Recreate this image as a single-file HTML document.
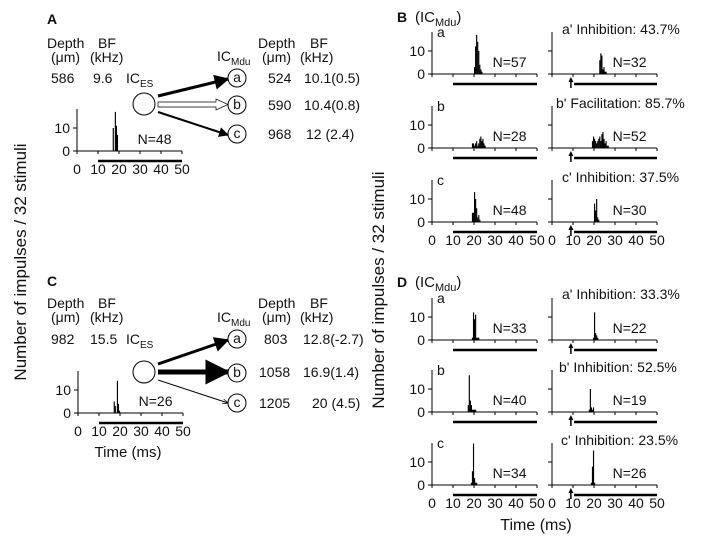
<!DOCTYPE html>
<html><head><meta charset="utf-8"><style>
body{margin:0;background:#fff}
svg{display:block;font-family:"Liberation Sans",Arial,sans-serif}
text{fill:#111}
</style></head><body>
<svg id="fig" width="707" height="551" viewBox="0 0 707 551">
<defs>
<marker id="ah" viewBox="0 0 10 10" refX="9" refY="5" markerWidth="5" markerHeight="5" orient="auto"><path d="M0,0L10,5L0,10z" fill="#000"/></marker>
<marker id="ahs" viewBox="0 0 10 10" refX="9" refY="5" markerWidth="8" markerHeight="6" orient="auto"><path d="M0,1L10,5L0,9" fill="none" stroke="#000" stroke-width="1.2"/></marker>
</defs>
<g font-size="14">
<g>
<text x="47" y="24" font-weight="bold" font-size="14">A</text>
<text x="47" y="48">Depth</text><text x="98" y="48">BF</text>
<text x="51" y="62">(μm)</text><text x="90" y="62">(kHz)</text>
<text x="51" y="83">586</text><text x="93" y="83">9.6</text>
<text x="126" y="83">IC<tspan font-size="10" dy="4">ES</tspan></text>
<circle cx="144" cy="104" r="11" fill="#fff" stroke="#000"/>
<line x1="158" y1="96" x2="228" y2="79" stroke="#000" stroke-width="3" marker-end="url(#ah)"/>
<path d="M158,102 L216,102 L216,99 L228,104.5 L216,110 L216,107 L158,107 Z" fill="#fff" stroke="#000" stroke-width="0.7"/>
<line x1="158" y1="112" x2="228" y2="135" stroke="#000" stroke-width="2" marker-end="url(#ah)"/>
<circle cx="237" cy="78" r="9" fill="#fff" stroke="#000"/><text x="237" y="82" text-anchor="middle">a</text>
<circle cx="237" cy="105" r="9" fill="#fff" stroke="#000"/><text x="237" y="109" text-anchor="middle">b</text>
<circle cx="237" cy="134" r="9" fill="#fff" stroke="#000"/><text x="237" y="138" text-anchor="middle">c</text>
<text x="217" y="61">IC<tspan font-size="10" dy="4">Mdu</tspan></text>
<text x="258" y="48">Depth</text><text x="310" y="48">BF</text>
<text x="262" y="62">(μm)</text><text x="300" y="62">(kHz)</text>
<text x="268" y="83">524</text><text x="304" y="83">10.1(0.5)</text>
<text x="268" y="110">590</text><text x="304" y="110">10.4(0.8)</text>
<text x="268" y="139">968</text><text x="306" y="139">12  (2.4)</text>
</g>
<g>
<text x="47" y="286" font-weight="bold" font-size="14">C</text>
<text x="47" y="308">Depth</text><text x="98" y="308">BF</text>
<text x="51" y="322">(μm)</text><text x="90" y="322">(kHz)</text>
<text x="51" y="344">982</text><text x="90" y="344">15.5</text>
<text x="126" y="344">IC<tspan font-size="10" dy="4">ES</tspan></text>
<circle cx="144" cy="372" r="11" fill="#fff" stroke="#000"/>
<line x1="158" y1="364" x2="228" y2="340" stroke="#000" stroke-width="3" marker-end="url(#ah)"/>
<line x1="158" y1="372" x2="228" y2="372" stroke="#000" stroke-width="5" marker-end="url(#ah)"/>
<line x1="158" y1="380" x2="228" y2="403" stroke="#000" stroke-width="1" marker-end="url(#ahs)"/>
<circle cx="237" cy="339" r="9" fill="#fff" stroke="#000"/><text x="237" y="343" text-anchor="middle">a</text>
<circle cx="237" cy="373" r="9" fill="#fff" stroke="#000"/><text x="237" y="377" text-anchor="middle">b</text>
<circle cx="237" cy="403" r="9" fill="#fff" stroke="#000"/><text x="237" y="407" text-anchor="middle">c</text>
<text x="217" y="322">IC<tspan font-size="10" dy="4">Mdu</tspan></text>
<text x="258" y="308">Depth</text><text x="310" y="308">BF</text>
<text x="262" y="322">(μm)</text><text x="300" y="322">(kHz)</text>
<text x="264" y="344">803</text><text x="303" y="344">12.8(-2.7)</text>
<text x="259" y="377">1058</text><text x="303" y="377">16.9(1.4)</text>
<text x="259" y="408">1205</text><text x="312" y="408">20 (4.5)</text>
<text x="128" y="457" font-size="15" text-anchor="middle">Time (ms)</text>
</g>
<text x="397" y="22" font-weight="bold" font-size="14">B</text>
<text x="415" y="22" font-size="15">(IC<tspan font-size="11" dy="4">Mdu</tspan><tspan dy="-4">)</tspan></text>
<text x="397" y="287" font-weight="bold" font-size="14">D</text>
<text x="415" y="287" font-size="15">(IC<tspan font-size="11" dy="4">Mdu</tspan><tspan dy="-4">)</tspan></text>
<text x="562" y="34">a'  Inhibition: 43.7%</text>
<text x="556" y="108">b'  Facilitation: 85.7%</text>
<text x="562" y="182">c'  Inhibition: 37.5%</text>
<text x="562" y="299">a'  Inhibition: 33.3%</text>
<text x="559" y="372">b'  Inhibition: 52.5%</text>
<text x="561" y="445">c'  Inhibition: 23.5%</text>
<text x="536" y="530" font-size="16" text-anchor="middle">Time (ms)</text>
<text transform="translate(26,262) rotate(-90)" font-size="17" text-anchor="middle">Number of impulses / 32 stimuli</text>
<text transform="translate(384,290) rotate(-90)" font-size="17" text-anchor="middle">Number of impulses / 32 stimuli</text>
</g>
<g id="hists"></g>
</svg>
<script>
const startA=17,  countsA=[10,0,17,11,7];
const startC=17,  countsC=[5,3,0,14,4,1];
const startBa=20, countsBa=[3,12,17,14,10,4,2,1];
const startBa2=22.5, countsBa2=[6,9,8,2,3,1,1];
const startBb=19, countsBb=[2,2,1,2,3,1,2,4,5,3,4,2,1];
const startBb2=19, countsBb2=[3,5,4,3,2,3,4,5,3,6,7,4,2,3,1,1];
const startBc=19, countsBc=[4,4,13,10,6,2,3,1];
const startBc2=20, countsBc2=[8,5,10,2,1];
const startDa=19, countsDa=[1,12,9,11,1,1,1];
const startDa2=19.5, countsDa2=[1,12,3,2,1];
const startDb=17, countsDb=[3,16,5,3,1,1,1,1];
const startDb2=17.5, countsDb2=[1,10,2,1,2];
const startDc=18.5, countsDc=[1,6,18,3,1,1];
const startDc2=18.5, countsDc2=[1,8,15,1];
const nLabels=["N=48","N=26","N=57","N=32","N=28","N=52","N=48","N=30","N=33","N=22","N=40","N=19","N=34","N=26"];
const xTicks=[0,10,20,30,40,50];
const yTicks=[0,10];

const NS="http://www.w3.org/2000/svg";
const G=document.getElementById('hists');
function el(t,a,p){const e=document.createElementNS(NS,t);for(const k in a)e.setAttribute(k,a[k]);(p||G).appendChild(e);return e;}
function hist(name,x0,y0,start,counts,nLab,letter,prime,showX){
  const sx=v=>x0+v*2.1, sy=v=>y0-v*2.3;
  const g=el('g',{});
  
  
  el('line',{x1:x0,y1:y0,x2:sx(50),y2:y0,stroke:'#000','stroke-width':1},g);
  el('line',{x1:x0,y1:y0,x2:x0,y2:y0-42,stroke:'#000','stroke-width':1},g);
  xTicks.forEach(t=>{el('line',{x1:sx(t),y1:y0,x2:sx(t),y2:y0+3,stroke:'#000'},g);
    if(showX){const tx=el('text',{x:sx(t),y:y0+23,'font-size':14,'text-anchor':'middle'},g);tx.textContent=t;}});
  yTicks.forEach(t=>{el('line',{x1:x0,y1:sy(t),x2:x0-4,y2:sy(t),stroke:'#000'},g);
    if(!prime){const tx=el('text',{x:x0-7,y:sy(t)+5,'font-size':14,'text-anchor':'end'},g);tx.textContent=t;}});
  counts.forEach((c,i)=>{if(c>0){const b=el('rect',{x:sx(start+i*0.5),y:sy(c),width:1.15,height:y0-sy(c),fill:'#000'},g);
    
    }});
  const sb=el('line',{x1:sx(prime?10.5:10),y1:y0+10,x2:sx(50),y2:y0+10,stroke:'#000','stroke-width':2.5},g);
  
  
  if(prime){el('line',{x1:sx(9),y1:y0+14,x2:sx(9),y2:y0+6,stroke:'#000','stroke-width':1.5},g);
    el('path',{d:`M${sx(9)-2.5},${y0+8} L${sx(9)},${y0+3} L${sx(9)+2.5},${y0+8}Z`,fill:'#000'},g);}
  const nl=el('text',{x:sx(45),y:y0-7,'font-size':14,'text-anchor':'end'},g);nl.textContent=nLab;
  if(letter){const lt=el('text',{x:x0+5,y:y0-37,'font-size':14},g);lt.textContent=letter;}
}
hist('hist-a',77,151,startA,countsA,nLabels[0],'',false,true);
hist('hist-c',78,413,startC,countsC,nLabels[1],'',false,true);
const BL=432,BR=552;
hist('hist-b-a',BL,74,startBa,countsBa,nLabels[2],'a',false,false);
hist('hist-b-a-prime',BR,74,startBa2,countsBa2,nLabels[3],'',true,false);
hist('hist-b-b',BL,148,startBb,countsBb,nLabels[4],'b',false,false);
hist('hist-b-b-prime',BR,148,startBb2,countsBb2,nLabels[5],'',true,false);
hist('hist-b-c',BL,222,startBc,countsBc,nLabels[6],'c',false,true);
hist('hist-b-c-prime',BR,222,startBc2,countsBc2,nLabels[7],'',true,true);
hist('hist-d-a',BL,340,startDa,countsDa,nLabels[8],'a',false,false);
hist('hist-d-a-prime',BR,340,startDa2,countsDa2,nLabels[9],'',true,false);
hist('hist-d-b',BL,412,startDb,countsDb,nLabels[10],'b',false,false);
hist('hist-d-b-prime',BR,412,startDb2,countsDb2,nLabels[11],'',true,false);
hist('hist-d-c',BL,485,startDc,countsDc,nLabels[12],'c',false,true);
hist('hist-d-c-prime',BR,485,startDc2,countsDc2,nLabels[13],'',true,true);
</script>
</body></html>
